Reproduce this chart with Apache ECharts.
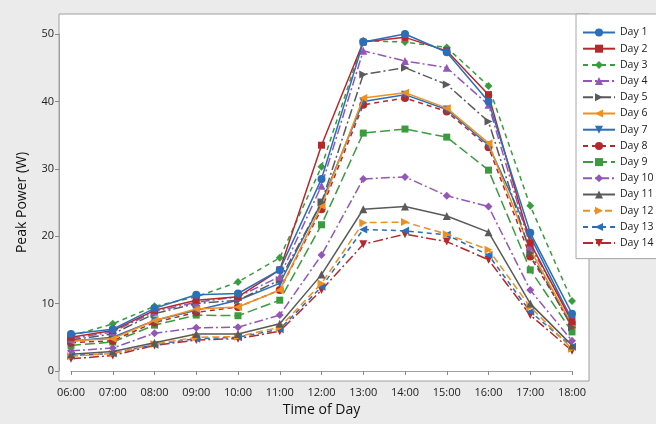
<!DOCTYPE html>
<html>
<head>
<meta charset="utf-8">
<script src="https://cdn.jsdelivr.net/npm/echarts@6/dist/echarts.min.js"></script>
<style>
  html, body { margin: 0; padding: 0; background: #ebebeb; }
  #chart { width: 656px; height: 424px; }
</style>
</head>
<body>
<div id="chart"></div>
<script>
// 数据
var hours = ['06:00', '07:00', '08:00', '09:00', '10:00', '11:00', '12:00', '13:00', '14:00', '15:00', '16:00', '17:00', '18:00'];
var yTicks = [0, 10, 20, 30, 40, 50];

var day1  = [5.5, 6.2, 9.3, 11.3, 11.5, 15.0, 28.5, 48.8, 50.0, 47.3, 40.0, 20.5, 8.5];
var day2  = [5.0, 6.0, 9.0, 10.5, 11.0, 15.0, 33.5, 48.8, 49.5, 47.5, 41.0, 19.0, 7.3];
var day3  = [5.2, 7.0, 9.6, 11.0, 13.2, 16.8, 30.3, 49.0, 48.8, 48.0, 42.3, 24.5, 10.4];
var day4  = [4.8, 5.8, 8.8, 10.2, 11.0, 14.0, 27.5, 47.5, 46.0, 45.0, 39.5, 18.5, 7.8];
var day5  = [4.6, 5.5, 8.5, 10.0, 10.5, 13.5, 25.0, 44.0, 45.0, 42.5, 37.0, 17.5, 6.5];
var day6  = [4.5, 4.8, 7.5, 9.2, 9.5, 12.0, 24.5, 40.5, 41.3, 39.0, 33.8, 18.0, 6.8];
var day7  = [4.4, 5.0, 7.5, 9.0, 10.5, 13.0, 25.0, 40.0, 41.0, 38.8, 33.5, 20.0, 7.5];
var day8  = [4.2, 4.5, 7.2, 8.7, 9.5, 12.0, 24.0, 39.5, 40.5, 38.5, 33.2, 17.0, 6.8];
var day9  = [3.8, 4.3, 6.8, 8.3, 8.2, 10.5, 21.7, 35.3, 35.9, 34.7, 29.8, 15.0, 5.8];
var day10 = [3.0, 3.4, 5.6, 6.4, 6.5, 8.3, 17.2, 28.5, 28.8, 26.0, 24.4, 12.0, 4.5];
var day11 = [2.5, 2.9, 4.2, 5.5, 5.5, 7.0, 14.3, 24.0, 24.4, 23.0, 20.6, 10.0, 3.8];
var day12 = [2.2, 2.6, 4.0, 5.0, 5.1, 6.5, 13.0, 22.0, 22.1, 20.3, 18.0, 9.5, 3.3];
var day13 = [2.3, 2.6, 3.9, 4.8, 5.0, 6.2, 12.5, 21.0, 20.8, 20.2, 17.2, 8.8, 3.6];
var day14 = [1.8, 2.3, 3.8, 4.6, 4.8, 5.9, 12.0, 18.8, 20.3, 19.2, 16.5, 8.3, 3.0];

var allDays = [day1, day2, day3, day4, day5, day6, day7, day8, day9, day10, day11, day12, day13, day14];

// 样式
var blue = '#2a6fb8', red = '#b5292c', green = '#3a9c3f', purple = '#9457b8', gray = '#5a5a5a', orange = '#ee9020';
var looks = [
  { c: blue,   dash: 'solid',         sym: 'circle',   rot: 0 },
  { c: red,    dash: 'solid',         sym: 'rect',     rot: 0 },
  { c: green,  dash: [5, 4],          sym: 'diamond',  rot: 0 },
  { c: purple, dash: [9, 3, 2, 3],    sym: 'triangle', rot: 0 },
  { c: gray,   dash: [10, 3, 2, 3],   sym: 'triangle', rot: -90 },
  { c: orange, dash: 'solid',         sym: 'triangle', rot: 90 },
  { c: blue,   dash: 'solid',         sym: 'triangle', rot: 180 },
  { c: red,    dash: [5, 4],          sym: 'circle',   rot: 0 },
  { c: green,  dash: [10, 4],         sym: 'rect',     rot: 0 },
  { c: purple, dash: [9, 3, 2, 3],    sym: 'diamond',  rot: 0 },
  { c: gray,   dash: 'solid',         sym: 'triangle', rot: 0 },
  { c: orange, dash: [7, 4],          sym: 'triangle', rot: -90 },
  { c: blue,   dash: [5, 4],          sym: 'triangle', rot: 90 },
  { c: red,    dash: [10, 3, 2, 3],   sym: 'triangle', rot: 180 }
];

var series = allDays.map(function (d, i) {
  var lk = looks[i];
  return {
    name: 'Day ' + (i + 1),
    type: 'line',
    data: d,
    symbol: lk.sym,
    symbolRotate: lk.rot,
    symbolSize: lk.sym === 'rect' ? 7 : 8,
    color: lk.c,
    lineStyle: { width: 1.5, type: lk.dash, color: lk.c },
    itemStyle: { color: lk.c },
    emphasis: { disabled: true },
    z: 20 - i
  };
});

var font = 'Open Sans, Noto Sans, sans-serif';

var myChart = echarts.init(document.getElementById('chart'));
var option = {
  animation: false,
  backgroundColor: '#ebebeb',
  textStyle: { fontFamily: font },
  graphic: [{
    type: 'rect',
    z: -10,
    shape: { x: 59, y: 14, width: 530, height: 367 },
    style: { fill: '#ffffff', stroke: '#a0a0a0', lineWidth: 1 }
  }],
  grid: { left: 71, right: 84, top: 34, bottom: 53 },
  legend: {
    orient: 'vertical',
    left: 576,
    top: 14,
    width: 90,
    data: series.map(function (s) { return s.name; }),
    itemWidth: 32,
    itemHeight: 10,
    itemGap: 5.2,
    padding: [13, 12, 10, 6],
    backgroundColor: '#ffffff',
    borderColor: '#a8a8a8',
    borderWidth: 1,
    textStyle: { fontSize: 10.5, color: '#222', fontFamily: font }
  },
  xAxis: {
    type: 'category',
    data: hours,
    boundaryGap: false,
    offset: 10,
    name: 'Time of Day',
    nameLocation: 'middle',
    nameGap: 20,
    nameTextStyle: { fontSize: 14, color: '#111' },
    axisLine: { lineStyle: { color: '#a0a0a0' } },
    axisTick: { alignWithLabel: true, length: 4, lineStyle: { color: '#888' } },
    axisLabel: { fontSize: 11, color: '#222', margin: 6 },
    splitLine: { show: false }
  },
  yAxis: {
    type: 'value',
    min: 0,
    max: 50,
    interval: 10,
    offset: 12,
    name: 'Peak Power (W)',
    nameLocation: 'middle',
    nameGap: 30,
    nameTextStyle: { fontSize: 14, color: '#111' },
    axisLine: { show: true, lineStyle: { color: '#a0a0a0' } },
    axisTick: { show: true, length: 4, lineStyle: { color: '#888' } },
    axisLabel: {
      fontSize: 11, color: '#222', margin: 5,
      formatter: function (v) { return yTicks.indexOf(v) >= 0 ? String(v) : ''; }
    },
    splitLine: { show: false }
  },
  series: series
};
myChart.setOption(option);
</script>
</body>
</html>
